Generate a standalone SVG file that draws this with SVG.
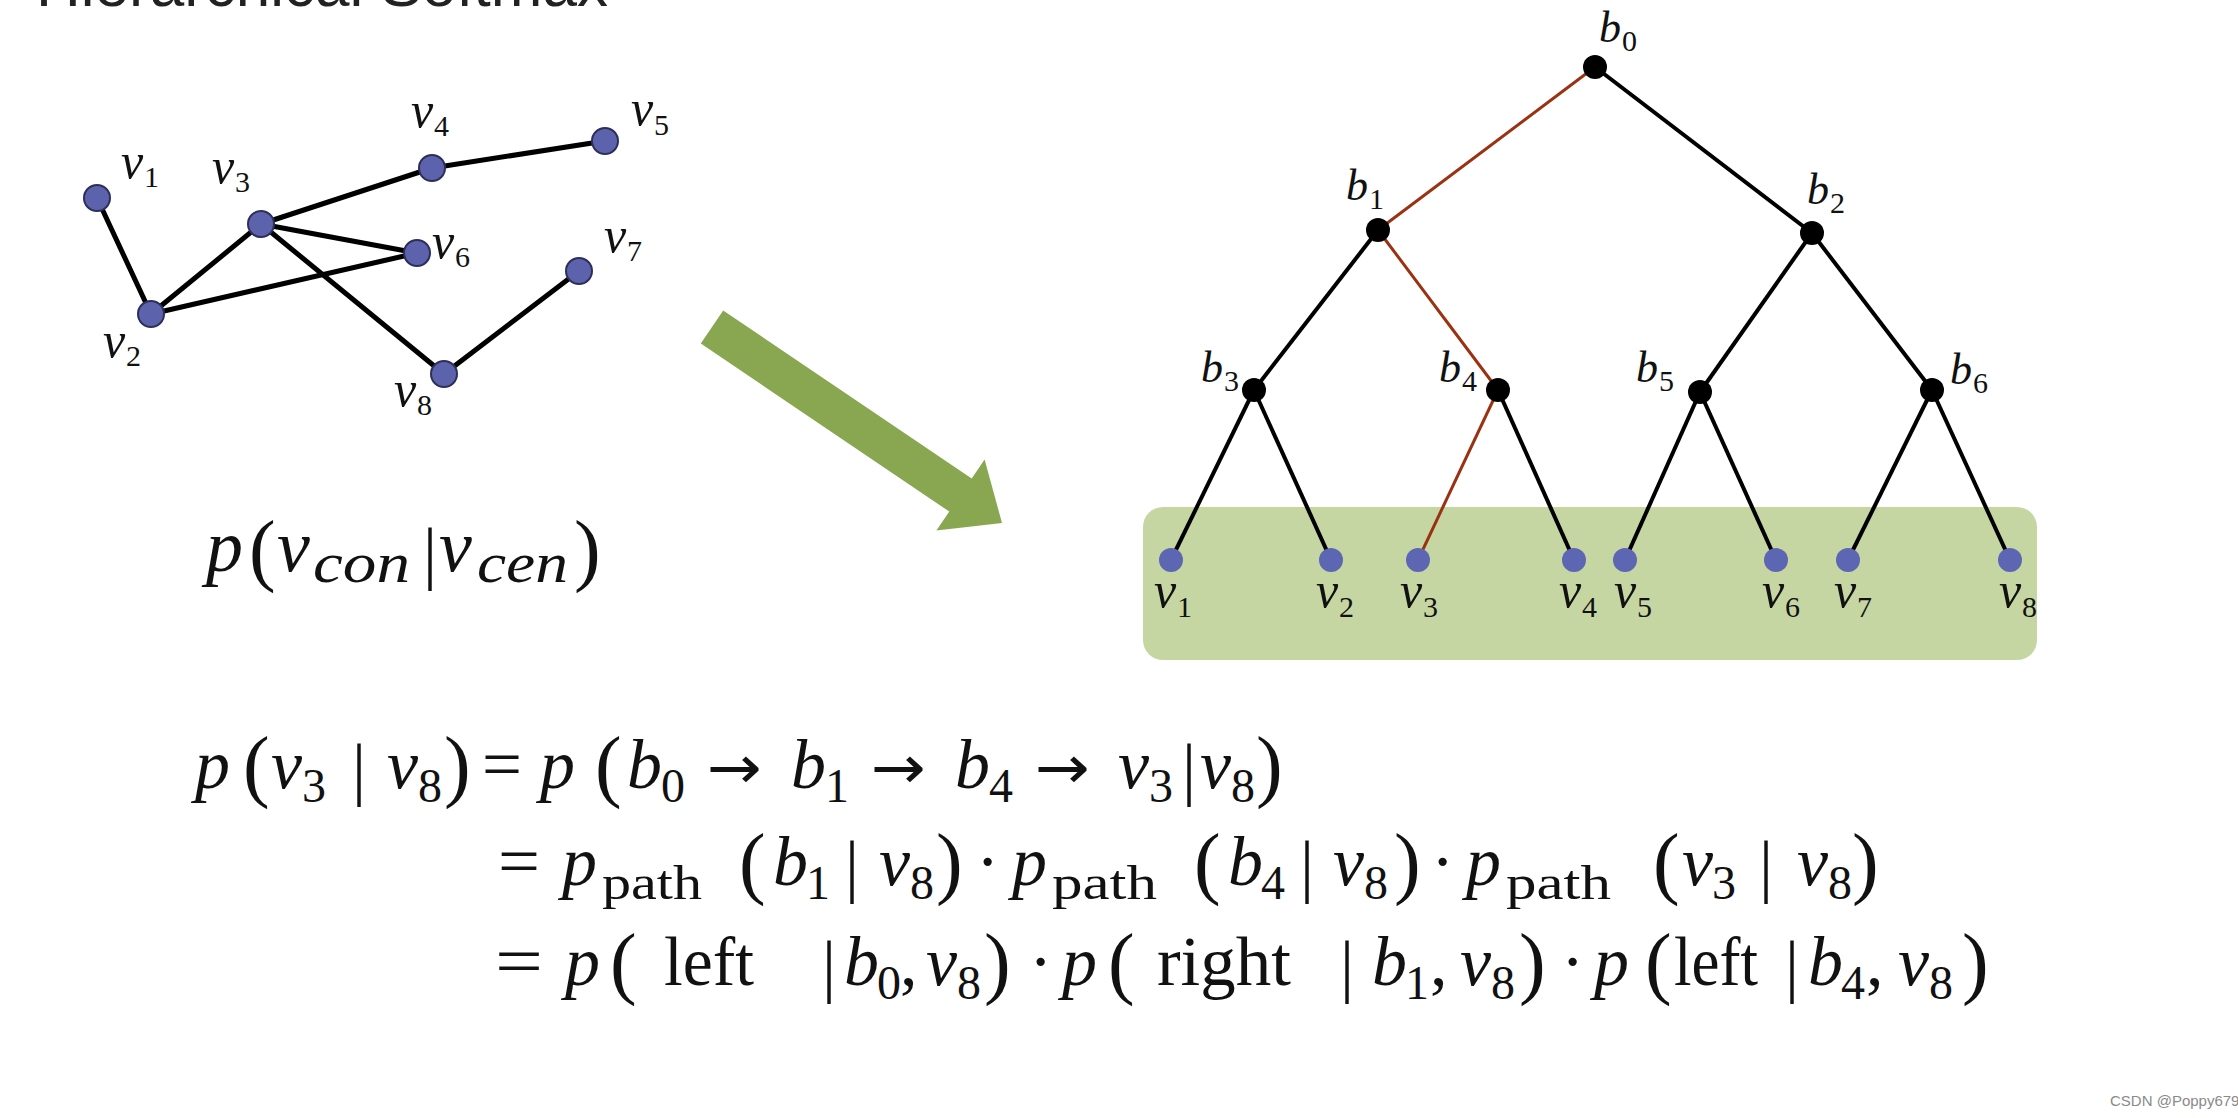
<svg xmlns="http://www.w3.org/2000/svg" width="2238" height="1118" viewBox="0 0 2238 1118">
<style>
.bg{fill:#ffffff}
.gn{fill:#5c63ac;stroke:#2c2f5a;stroke-width:2}
.leaf{fill:#5c66b2}
.bn{fill:#000}
.ge{stroke:#000;stroke-width:5;stroke-linecap:round;fill:none}
.te{stroke:#000;stroke-width:4;fill:none}
.re{stroke:#9a3212;stroke-width:3;fill:none}
.lab{font-family:"Liberation Serif",serif;font-style:italic;font-size:50px;fill:#111}
.blab{font-family:"Liberation Serif",serif;font-style:italic;font-size:44px;fill:#111}
.ls{font-family:"Liberation Serif",serif;font-size:30px;fill:#111}
.m{font-family:"Liberation Serif",serif;font-style:italic;font-size:70px;fill:#111}
.u{font-family:"Liberation Serif",serif;font-size:70px;fill:#111}
.ar{font-family:"DejaVu Sans",sans-serif;font-size:60px;fill:#111}
.s{font-family:"Liberation Serif",serif;font-size:48px;fill:#111}
.si{font-family:"Liberation Serif",serif;font-style:italic;font-size:58px;fill:#111}
.pa{font-family:"Liberation Serif",serif;font-size:80px;fill:#111}
.title{font-family:"Liberation Sans",sans-serif;font-size:62px;fill:#222}
.wm{font-family:"Liberation Sans",sans-serif;font-size:15px;fill:#8a8a8a}
</style>
<rect class="bg" x="0" y="0" width="2238" height="1118"/>
<text class="title" x="36" y="6">Hierarchical Softmax</text>

<!-- left graph connectors -->
<g id="graph-edges">
<line class="ge" x1="97" y1="198" x2="151" y2="314"/>
<line class="ge" x1="151" y1="314" x2="261" y2="224"/>
<line class="ge" x1="151" y1="314" x2="417" y2="253"/>
<line class="ge" x1="261" y1="224" x2="432" y2="168"/>
<line class="ge" x1="432" y1="168" x2="605" y2="141"/>
<line class="ge" x1="261" y1="224" x2="417" y2="253"/>
<line class="ge" x1="261" y1="224" x2="444" y2="374"/>
<line class="ge" x1="444" y1="374" x2="579" y2="271"/>
</g>
<g id="g-v1"><circle class="gn" cx="97" cy="198" r="13"/><text class="lab" x="121" y="178">v</text><text class="ls" x="144" y="187">1</text></g>
<g id="g-v2"><circle class="gn" cx="151" cy="314" r="13"/><text class="lab" x="103" y="357">v</text><text class="ls" x="126" y="366">2</text></g>
<g id="g-v3"><circle class="gn" cx="261" cy="224" r="13"/><text class="lab" x="212" y="183">v</text><text class="ls" x="235" y="192">3</text></g>
<g id="g-v4"><circle class="gn" cx="432" cy="168" r="13"/><text class="lab" x="411" y="127">v</text><text class="ls" x="434" y="136">4</text></g>
<g id="g-v5"><circle class="gn" cx="605" cy="141" r="13"/><text class="lab" x="631" y="125">v</text><text class="ls" x="654" y="135">5</text></g>
<g id="g-v6"><circle class="gn" cx="417" cy="253" r="13"/><text class="lab" x="432" y="258">v</text><text class="ls" x="455" y="267">6</text></g>
<g id="g-v7"><circle class="gn" cx="579" cy="271" r="13"/><text class="lab" x="604" y="252">v</text><text class="ls" x="627" y="261">7</text></g>
<g id="g-v8"><circle class="gn" cx="444" cy="374" r="13"/><text class="lab" x="394" y="406">v</text><text class="ls" x="417" y="415">8</text></g>

<!-- p(v_con|v_cen) -->
<g id="formula-top">
<text class="m" x="206" y="571" style="font-size:74px">p</text>
<text class="pa" x="249" y="576">(</text>
<text class="m" x="277" y="571" style="font-size:74px">v</text>
<text class="si" x="313" y="582" textLength="97" lengthAdjust="spacingAndGlyphs">con</text>
<text class="u" x="423" y="576">|</text>
<text class="m" x="439" y="571" style="font-size:74px">v</text>
<text class="si" x="477" y="582" textLength="91" lengthAdjust="spacingAndGlyphs">cen</text>
<text class="pa" x="574" y="576">)</text>
</g>

<!-- green arrow -->
<g id="arrow">
<polygon fill="#88a750" points="700.8,343.6 723.2,310.4 971.7,478.4 984.6,459.4 1002,523 936.4,530.6 949.3,511.6"/>
</g>

<!-- tree -->
<rect id="leaf-band" x="1143" y="507" width="894" height="153" rx="20" ry="20" fill="#c6d6a3"/>
<g id="tree-edges">
<line class="re" x1="1595" y1="67" x2="1378" y2="230"/>
<line class="te" x1="1595" y1="67" x2="1812" y2="233"/>
<line class="te" x1="1378" y1="230" x2="1254" y2="390"/>
<line class="re" x1="1378" y1="230" x2="1498" y2="390"/>
<line class="te" x1="1812" y1="233" x2="1700" y2="392"/>
<line class="te" x1="1812" y1="233" x2="1932" y2="390"/>
<line class="te" x1="1254" y1="390" x2="1171" y2="560"/>
<line class="te" x1="1254" y1="390" x2="1331" y2="560"/>
<line class="re" x1="1498" y1="390" x2="1418" y2="560"/>
<line class="te" x1="1498" y1="390" x2="1574" y2="560"/>
<line class="te" x1="1700" y1="392" x2="1625" y2="560"/>
<line class="te" x1="1700" y1="392" x2="1776" y2="560"/>
<line class="te" x1="1932" y1="390" x2="1848" y2="560"/>
<line class="te" x1="1932" y1="390" x2="2010" y2="560"/>
</g>
<g id="b0"><circle class="bn" cx="1595" cy="67" r="12"/><text class="blab" x="1599" y="42">b</text><text class="ls" x="1622" y="51">0</text></g>
<g id="b1"><circle class="bn" cx="1378" cy="230" r="12"/><text class="blab" x="1346" y="200">b</text><text class="ls" x="1369" y="209">1</text></g>
<g id="b2"><circle class="bn" cx="1812" cy="233" r="12"/><text class="blab" x="1807" y="204">b</text><text class="ls" x="1830" y="213">2</text></g>
<g id="b3"><circle class="bn" cx="1254" cy="390" r="12"/><text class="blab" x="1201" y="382">b</text><text class="ls" x="1224" y="391">3</text></g>
<g id="b4"><circle class="bn" cx="1498" cy="390" r="12"/><text class="blab" x="1439" y="382">b</text><text class="ls" x="1462" y="391">4</text></g>
<g id="b5"><circle class="bn" cx="1700" cy="392" r="12"/><text class="blab" x="1636" y="382">b</text><text class="ls" x="1659" y="391">5</text></g>
<g id="b6"><circle class="bn" cx="1932" cy="390" r="12"/><text class="blab" x="1950" y="384">b</text><text class="ls" x="1973" y="393">6</text></g>
<g id="t-v1"><circle class="leaf" cx="1171" cy="560" r="12"/><text class="lab" x="1154" y="607">v</text><text class="ls" x="1177" y="617">1</text></g>
<g id="t-v2"><circle class="leaf" cx="1331" cy="560" r="12"/><text class="lab" x="1316" y="607">v</text><text class="ls" x="1339" y="617">2</text></g>
<g id="t-v3"><circle class="leaf" cx="1418" cy="560" r="12"/><text class="lab" x="1400" y="607">v</text><text class="ls" x="1423" y="617">3</text></g>
<g id="t-v4"><circle class="leaf" cx="1574" cy="560" r="12"/><text class="lab" x="1559" y="607">v</text><text class="ls" x="1582" y="617">4</text></g>
<g id="t-v5"><circle class="leaf" cx="1625" cy="560" r="12"/><text class="lab" x="1614" y="607">v</text><text class="ls" x="1637" y="617">5</text></g>
<g id="t-v6"><circle class="leaf" cx="1776" cy="560" r="12"/><text class="lab" x="1762" y="607">v</text><text class="ls" x="1785" y="617">6</text></g>
<g id="t-v7"><circle class="leaf" cx="1848" cy="560" r="12"/><text class="lab" x="1834" y="607">v</text><text class="ls" x="1857" y="617">7</text></g>
<g id="t-v8"><circle class="leaf" cx="2010" cy="560" r="12"/><text class="lab" x="1999" y="607">v</text><text class="ls" x="2022" y="617">8</text></g>

<!-- equation line 1 -->
<g id="eq1">
<text class="m" x="195" y="788">p</text>
<text class="pa" x="243" y="792">(</text>
<text class="m" x="271" y="788">v</text><text class="s" x="302" y="802">3</text>
<text class="u" x="352" y="792">|</text>
<text class="m" x="387" y="788">v</text><text class="s" x="418" y="802">8</text>
<text class="pa" x="444" y="792">)</text>
<text class="u" x="482" y="788" textLength="40" lengthAdjust="spacingAndGlyphs">=</text>
<text class="m" x="540" y="788">p</text>
<text class="pa" x="595" y="792">(</text>
<text class="m" x="627" y="788">b</text><text class="s" x="661" y="802">0</text>
<text class="ar" x="707" y="788" textLength="55" lengthAdjust="spacingAndGlyphs">→</text>
<text class="m" x="791" y="788">b</text><text class="s" x="825" y="802">1</text>
<text class="ar" x="871" y="788" textLength="55" lengthAdjust="spacingAndGlyphs">→</text>
<text class="m" x="955" y="788">b</text><text class="s" x="989" y="802">4</text>
<text class="ar" x="1035" y="788" textLength="55" lengthAdjust="spacingAndGlyphs">→</text>
<text class="m" x="1118" y="788">v</text><text class="s" x="1149" y="802">3</text>
<text class="u" x="1182" y="792">|</text>
<text class="m" x="1200" y="788">v</text><text class="s" x="1231" y="802">8</text>
<text class="pa" x="1256" y="792">)</text>
</g>

<!-- equation line 2 -->
<g id="eq2">
<text class="u" x="498" y="885" textLength="42" lengthAdjust="spacingAndGlyphs">=</text>
<text class="m" x="562" y="885">p</text><text class="s" x="602" y="899" textLength="100" lengthAdjust="spacingAndGlyphs">path</text>
<text class="pa" x="739" y="889">(</text>
<text class="m" x="773" y="885">b</text><text class="s" x="806" y="899">1</text>
<text class="u" x="845" y="889">|</text>
<text class="m" x="879" y="885">v</text><text class="s" x="910" y="899">8</text>
<text class="pa" x="936" y="889">)</text>
<text class="u" x="976" y="885">·</text>
<text class="m" x="1012" y="885">p</text><text class="s" x="1052" y="899" textLength="105" lengthAdjust="spacingAndGlyphs">path</text>
<text class="pa" x="1194" y="889">(</text>
<text class="m" x="1228" y="885">b</text><text class="s" x="1261" y="899">4</text>
<text class="u" x="1300" y="889">|</text>
<text class="m" x="1333" y="885">v</text><text class="s" x="1364" y="899">8</text>
<text class="pa" x="1394" y="889">)</text>
<text class="u" x="1431" y="885">·</text>
<text class="m" x="1466" y="885">p</text><text class="s" x="1506" y="899" textLength="105" lengthAdjust="spacingAndGlyphs">path</text>
<text class="pa" x="1653" y="889">(</text>
<text class="m" x="1682" y="885">v</text><text class="s" x="1712" y="899">3</text>
<text class="u" x="1759" y="889">|</text>
<text class="m" x="1797" y="885">v</text><text class="s" x="1828" y="899">8</text>
<text class="pa" x="1852" y="889">)</text>
</g>

<!-- equation line 3 -->
<g id="eq3">
<text class="u" x="495" y="985" textLength="48" lengthAdjust="spacingAndGlyphs">=</text>
<text class="m" x="565" y="985">p</text>
<text class="pa" x="610" y="989">(</text>
<text class="u" x="664" y="985" textLength="90" lengthAdjust="spacingAndGlyphs">left</text>
<text class="u" x="822" y="989">|</text>
<text class="m" x="844" y="985">b</text><text class="s" x="877" y="999">0</text>
<text class="u" x="900" y="985">,</text>
<text class="m" x="926" y="985">v</text><text class="s" x="957" y="999">8</text>
<text class="pa" x="984" y="989">)</text>
<text class="u" x="1029" y="985">·</text>
<text class="m" x="1062" y="985">p</text>
<text class="pa" x="1108" y="989">(</text>
<text class="u" x="1157" y="985" textLength="134" lengthAdjust="spacingAndGlyphs">right</text>
<text class="u" x="1340" y="989">|</text>
<text class="m" x="1372" y="985">b</text><text class="s" x="1405" y="999">1</text>
<text class="u" x="1430" y="985">,</text>
<text class="m" x="1460" y="985">v</text><text class="s" x="1491" y="999">8</text>
<text class="pa" x="1519" y="989">)</text>
<text class="u" x="1561" y="985">·</text>
<text class="m" x="1594" y="985">p</text>
<text class="pa" x="1645" y="989">(</text>
<text class="u" x="1674" y="985" textLength="84" lengthAdjust="spacingAndGlyphs">left</text>
<text class="u" x="1785" y="989">|</text>
<text class="m" x="1808" y="985">b</text><text class="s" x="1841" y="999">4</text>
<text class="u" x="1866" y="985">,</text>
<text class="m" x="1898" y="985">v</text><text class="s" x="1929" y="999">8</text>
<text class="pa" x="1962" y="989">)</text>
</g>

<text class="wm" x="2110" y="1106">CSDN @Poppy679</text>
</svg>
